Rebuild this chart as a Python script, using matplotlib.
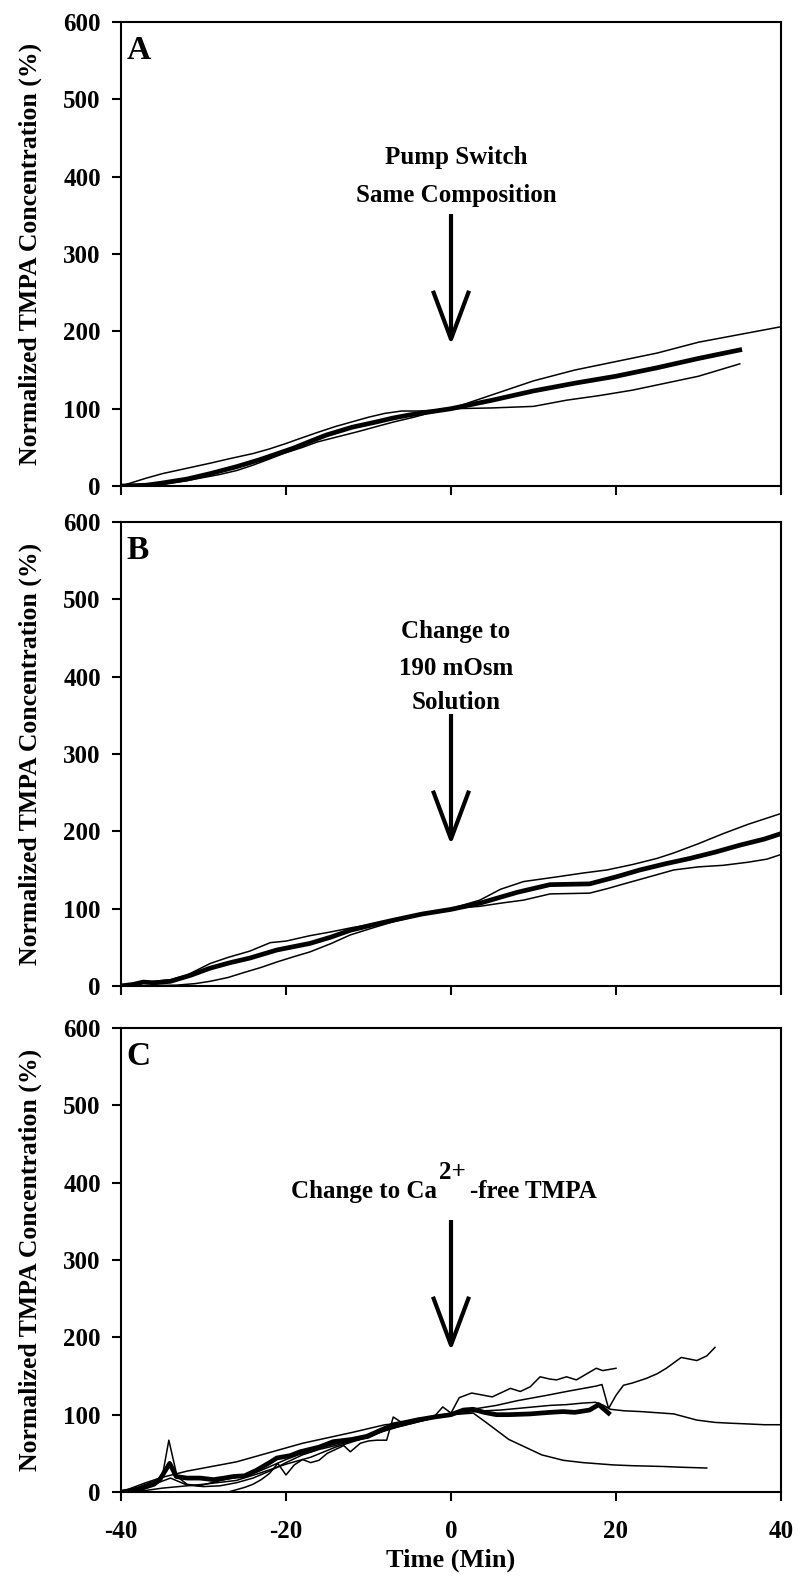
import numpy as np
import matplotlib.pyplot as plt

plt.rcParams['font.family'] = ['Liberation Serif', 'DejaVu Serif']
plt.rcParams['font.weight'] = 'bold'
plt.rcParams['axes.unicode_minus'] = False

# PANEL A - pump switch, same composition
a1_x = [-40, -37, -35, -32, -29, -27, -24, -22, -20, -18.7, -16, -14, -12, -10, -8, -6, -4, -2, 0,
        5, 10, 15, 20, 25, 30, 35, 40]
a1_y = [0, 10, 16, 23, 30, 35, 42, 48, 55, 60, 70, 77, 83, 89, 94, 97, 97, 98, 100,
        118, 136, 150, 161, 172, 186, 196, 206]
a2_x = [-40, -37, -34.5, -32, -30, -28, -26, -24, -22, -20.3, -18, -16.2, -14, -11.4, -9, -6.9, -4.5, -2.8, 0,
        5, 10, 14, 18, 22, 26, 30, 35]
a2_y = [0, 1, 3, 7, 11, 15, 20, 27, 35, 42, 50, 57, 63, 70, 77, 83, 89, 94, 100,
        101, 103, 111, 117, 124, 133, 142, 158]
a_mean_x = [-40, -37, -35.3, -32, -29.2, -26, -23.2, -21, -19.1, -17, -15.1, -12, -9, -7, -5, -2.5, 0,
            5, 10, 15, 20, 25, 30, 35]
a_mean_y = [0, 1, 3.4, 9, 16, 25, 34, 42, 49, 58, 66, 76, 83, 88, 92, 96, 100,
            111, 123, 133, 142, 153, 165, 176]

# PANEL B - change to 190 mOsm solution
b1_x = [-40, -37.3, -36, -34, -32, -29.2, -27, -24.4, -21.9, -20, -17.1, -14.5, -12.2, -9.5, -7, -3.5, 0,
        3.5, 6, 8.8, 12.8, 16, 18.9, 22, 25, 27, 30, 33, 36, 40]
b1_y = [0, 4, 6, 8, 14, 29, 37, 45, 56, 58, 65, 70, 75, 80, 86, 93, 100,
        111, 125, 135, 141, 146, 150, 157, 165, 172, 184, 197, 209, 223]
b2_x = [-40, -36, -33.3, -31, -29.2, -27, -25.2, -23, -21.1, -19, -17.1, -14.5, -12.2, -9.5, -7, -3.5, 0,
        3.5, 6, 8.8, 12, 16.8, 19, 21.3, 24, 27, 30, 33, 36, 38.3, 40]
b2_y = [0, 0.5, 1, 3, 6, 11, 17, 24, 31, 38, 44, 55, 66, 75, 83, 92, 100,
        103, 107, 111, 119, 120, 126, 133, 141, 150, 154, 156, 160, 164, 170]
b_mean_x = [-40, -38.5, -37.3, -36, -34, -31.5, -29.2, -26.8, -24.4, -21.1, -17.1, -14.6, -12.2, -9.5, -7, -3.5, 0,
            3.5, 8, 12, 16.8, 20, 22.9, 26, 29, 32, 35, 38, 40]
b_mean_y = [0, 2, 5, 4, 6, 14, 23, 30, 36, 46.5, 55, 63, 72, 79, 85, 93, 99,
            107, 121, 131, 132, 141, 150, 158, 165, 173, 182, 190, 197]

# PANEL C - change to Ca-free TMPA
c1_x = [-40, -37, -35, -32, -29, -26, -23, -20, -18, -15, -12, -10, -8, -6, -4, -2, -1, 0,
        1, 2.5, 4, 5, 6, 7.2, 8.4, 9.6, 10.8, 12, 12.8, 14, 15.2, 16, 17.6, 18.4, 20]
c1_y = [0, 12, 19, 27, 33, 39, 48, 57, 63, 70, 77, 82, 87, 89, 94, 98, 110, 102,
        122, 128, 125, 123, 128, 134, 130, 136, 149, 146, 145, 149, 145, 150, 160, 157, 160]
c2_x = [-40, -38, -36, -35, -34.2, -33.2, -32, -30.5, -29, -27.5, -26, -24.5, -23, -21.5, -20, -18.5, -17,
        -15.5, -14, -12.5, -11, -9.5, -8, -6.5, -5, -3.5, -2, 0, 2, 5.5, 8, 11.6, 14, 17.6, 18.3, 19.1,
        20, 20.9, 22, 23.7, 25, 26.1, 27.9, 29.8, 31, 32]
c2_y = [0, 6, 14, 20, 67, 20, 10, 8, 12, 16, 19, 22, 28, 35, 42, 48, 52,
        58, 62, 66, 70, 74, 79, 84, 88, 92, 96, 100, 106, 112, 118, 125, 130, 137, 139, 108,
        125, 138, 141, 147, 153, 160, 174, 170, 176, 187]
c3_x = [-27, -25, -24, -23, -22, -21, -20, -19, -18, -17, -16, -15, -14, -13, -12.2, -11, -10, -9, -7.8, -7,
        -6, -5, -4, -3, -2, -1, 0]
c3_y = [0, 6, 10, 16, 24, 37, 22, 35, 42, 38, 41, 50, 55, 60, 52, 63, 66, 67, 67, 97,
        90, 92, 95, 96, 98, 100, 101]
c4_x = [-40, -37, -35, -30, -26, -23, -20, -17, -14, -11, -8, -5, -2, 0,
        2.7, 4, 5.5, 7, 8.8, 11, 13.6, 16, 19.7, 22, 25.7, 28, 31]
c4_y = [0, 2, 5, 10, 15, 25, 36, 45, 58, 68, 80, 88, 96, 100,
        102, 92, 80, 68, 59, 48, 41, 38, 35, 34, 33, 32, 31]
c5_x = [-40, -36, -34, -32, -30, -28, -26, -24, -22, -20, -18, -16, -14, -12, -10, -8, -6, -4, -2, 0,
        2, 4, 6, 8, 10, 12, 14, 16, 17.5, 18.5, 19.3, 21, 23, 25.7, 27, 29.8, 32, 33.8, 36, 38, 40]
c5_y = [0, 10, 18, 9, 7, 8, 12, 18, 27, 38, 48, 55, 60, 66, 70, 80, 88, 92, 97, 100,
        103, 105, 106, 108, 110, 112, 113, 115, 116, 112, 107, 105, 104, 102, 101, 93, 90, 89, 88, 87, 87]
c_mean_x = [-40, -38, -36, -35.3, -34.1, -33.3, -32, -30.4, -28.8, -27.5, -26.4, -25, -23.6, -22, -21.1, -19.5,
            -18.3, -16, -14.3, -12, -10.2, -8.5, -7, -5.5, -4.2, -2, 0,
            1.5, 2.7, 4, 5.5, 7, 9.6, 12, 13.6, 15, 16.8, 17.9, 19.1]
c_mean_y = [0, 3, 10, 16, 37, 20, 18, 18, 16, 18, 20, 21, 28, 38, 44, 47,
            52, 58, 65, 68, 72, 80, 87, 90, 93, 97, 100,
            106, 107, 103, 100, 100, 101, 103, 104, 103, 106, 113, 102]

x_ticks = [-40, -20, 0, 20, 40]
y_ticks = [0, 100, 200, 300, 400, 500, 600]

panels = [
    ("A", [(a1_x, a1_y), (a2_x, a2_y)], (a_mean_x, a_mean_y),
     [("Pump Switch", 425), ("Same Composition", 376)]),
    ("B", [(b1_x, b1_y), (b2_x, b2_y)], (b_mean_x, b_mean_y),
     [("Change to", 458), ("190 mOsm", 411), ("Solution", 366)]),
    ("C", [(c1_x, c1_y), (c2_x, c2_y), (c3_x, c3_y), (c4_x, c4_y), (c5_x, c5_y)], (c_mean_x, c_mean_y),
     []),
]

fig = plt.figure(figsize=(8, 15.77), dpi=100)
bottoms = [0.6918, 0.3748, 0.0539]

for i, (letter, runs, mean, notes) in enumerate(panels):
    ax = fig.add_axes([0.15125, bottoms[i], 0.825, 0.2942])
    for xs, ys in runs:
        ax.plot(xs, ys, color="black", lw=1.1)
    ax.plot(mean[0], mean[1], color="black", lw=3.4)

    # arrow marking the solution change
    ax.plot([0, 0], [352, 192], color="black", lw=3, solid_capstyle="butt")
    ax.plot([-2.1, 0, 2.1], [250, 190, 250], color="black", lw=3)

    for txt, yv in notes:
        ax.text(0.6, yv, txt, ha="center", va="center", fontsize=18, fontweight="bold")
    ax.text(0.008, 0.972, letter, transform=ax.transAxes, ha="left", va="top",
            fontsize=24, fontweight="bold")

    ax.set_xlim(-40, 40)
    ax.set_ylim(0, 600)
    ax.set_xticks(x_ticks)
    ax.set_yticks(y_ticks)
    ax.tick_params(direction="out", length=6.5, width=1.5, pad=8, labelsize=18)
    ax.tick_params(axis="x", pad=14)
    for s in ax.spines.values():
        s.set_linewidth(1.5)
    ax.set_ylabel("Normalized TMPA Concentration (%)", fontsize=18.5, fontweight="bold")
    ax.yaxis.set_label_coords(-0.12, 0.5)
    if i < 2:
        ax.set_xticklabels([])
    else:
        ax.set_xlabel("Time (Min)", fontsize=19, fontweight="bold", labelpad=4)
        # label with a large raised "2+" as in the original
        ax.text(-1.7, 388, "Change to Ca", ha="right", va="center", fontsize=18, fontweight="bold")
        ax.text(-1.4, 413, "2+", ha="left", va="center", fontsize=18, fontweight="bold")
        ax.text(2.3, 388, "-free TMPA", ha="left", va="center", fontsize=18, fontweight="bold")

plt.savefig("out.png", dpi=100)
